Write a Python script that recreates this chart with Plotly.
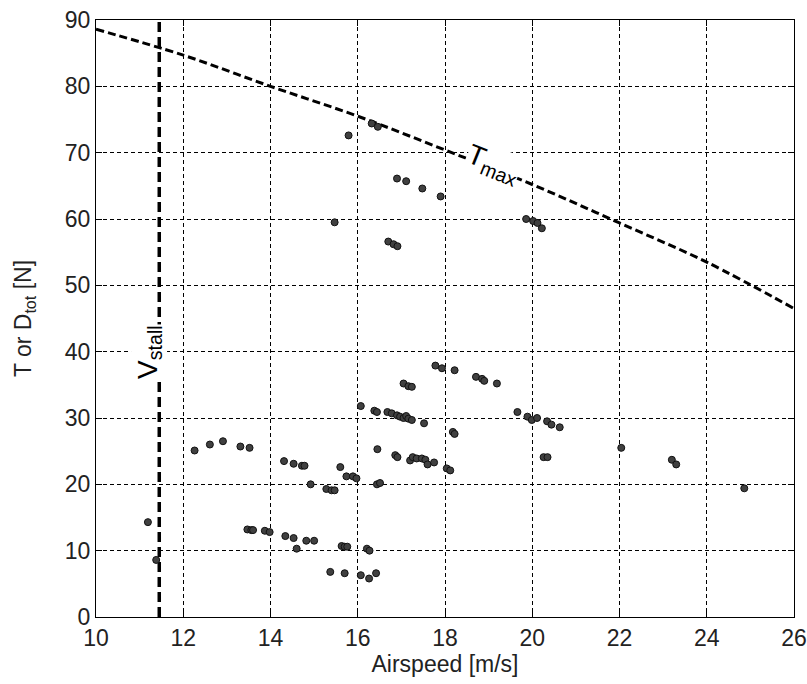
import plotly.graph_objects as go

# Measured operating points: airspeed [m/s] vs. thrust / total drag [N]
airspeed = [
    11.19, 11.38, 12.26, 12.61, 12.91, 13.31, 13.52, 13.47, 13.56, 13.60,
    13.87, 13.98, 14.31, 14.53, 14.72, 14.78, 14.34, 14.53, 14.60, 14.82,
    15.00, 14.92, 15.28, 15.40, 15.47, 15.60, 15.74, 15.89, 15.97, 15.63,
    15.70, 15.76, 15.37, 15.70, 16.07, 16.26, 16.42, 16.21, 16.27, 16.44,
    16.51, 16.45, 16.86, 16.91, 17.20, 17.26, 17.35, 17.47, 17.55, 17.60,
    17.75, 18.04, 18.12, 16.07, 16.38, 16.44, 16.68, 16.78, 16.90, 16.97,
    17.05, 17.11, 17.16, 17.24, 17.52, 18.18, 18.22, 17.05, 17.16, 17.24,
    17.78, 17.93, 18.22, 18.71, 18.85, 18.90, 19.19, 19.66, 19.89, 19.99,
    20.11, 20.34, 20.44, 20.63, 20.26, 20.35, 22.04, 23.20, 23.30, 24.86,
    15.47, 15.79, 16.32, 16.46, 16.70, 16.82, 16.91, 16.90, 17.11, 17.48,
    17.90, 19.86, 20.02, 20.12, 20.22,
]
force = [
    14.3, 8.6, 25.1, 26.0, 26.5, 25.7, 25.5, 13.2, 13.1, 13.1,
    13.0, 12.8, 23.5, 23.1, 22.8, 22.8, 12.2, 11.9, 10.3, 11.5,
    11.5, 20.0, 19.3, 19.1, 19.1, 22.6, 21.2, 21.2, 20.9, 10.7,
    10.6, 10.6, 6.8, 6.6, 6.3, 5.8, 6.6, 10.3, 10.0, 20.0,
    20.2, 25.3, 24.4, 24.1, 23.6, 24.1, 23.9, 23.9, 23.7, 23.0,
    23.3, 22.4, 22.1, 31.8, 31.1, 30.9, 30.9, 30.7, 30.4, 30.2,
    30.0, 30.3, 29.9, 29.7, 29.2, 27.9, 27.6, 35.2, 34.8, 34.7,
    37.9, 37.5, 37.2, 36.2, 35.9, 35.6, 35.2, 30.9, 30.2, 29.7,
    30.0, 29.5, 29.0, 28.6, 24.1, 24.1, 25.5, 23.7, 23.0, 19.4,
    59.5, 72.6, 74.4, 73.9, 56.6, 56.2, 55.9, 66.1, 65.7, 64.6,
    63.4, 60.0, 59.7, 59.4, 58.6,
]

# Maximum available thrust curve
tmax_speed = [10, 12, 14, 16, 18, 20, 22, 24, 26]
tmax_thrust = [88.6, 84.7, 80.0, 75.5, 70.4, 65.2, 59.4, 53.5, 46.5]

# Stall speed
v_stall = 11.45

x_ticks = [10, 12, 14, 16, 18, 20, 22, 24, 26]
y_ticks = [0, 10, 20, 30, 40, 50, 60, 70, 80, 90]

FONT = "Liberation Sans, Arial, sans-serif"
TEXT_COLOR = "#222222"

fig = go.Figure()

fig.add_trace(go.Scatter(
    x=tmax_speed, y=tmax_thrust, mode="lines",
    line=dict(color="black", width=3, dash="8px,4px", shape="spline"),
    hoverinfo="skip", showlegend=False,
))

fig.add_trace(go.Scatter(
    x=[v_stall, v_stall], y=[0, 90], mode="lines",
    line=dict(color="black", width=3.5, dash="10px,5px"),
    hoverinfo="skip", showlegend=False,
))

fig.add_trace(go.Scatter(
    x=airspeed, y=force, mode="markers",
    marker=dict(size=7, color="#404040", line=dict(color="#111111", width=1)),
    showlegend=False,
))

# Curve labels, boxed in white so the lines and grid break around them
fig.add_annotation(
    x=19.1, y=68.2, text="T<sub>max</sub>", showarrow=False, textangle=22,
    font=dict(family=FONT, size=28, color="black"),
    bgcolor="white", borderpad=0,
)
fig.add_annotation(
    x=11.22, y=40.0, text="V<sub>stall</sub>", showarrow=False, textangle=-90,
    font=dict(family=FONT, size=28, color="black"),
    bgcolor="white", borderpad=0,
)

axis_common = dict(
    showline=True, linecolor="black", linewidth=1, mirror="ticks",
    ticks="inside", ticklen=6, tickcolor="black",
    showgrid=True, gridcolor="black", gridwidth=1, griddash="4px,3px",
    zeroline=False, automargin=False,
    tickfont=dict(family=FONT, size=23, color=TEXT_COLOR),
)

fig.update_xaxes(
    range=[10, 26], tickvals=x_ticks,
    title=dict(text="Airspeed [m/s]", font=dict(family=FONT, size=23, color=TEXT_COLOR), standoff=4),
    **axis_common,
)
fig.update_yaxes(
    range=[0, 90], tickvals=y_ticks,
    title=dict(text="T or D<sub>tot</sub> [N]", font=dict(family=FONT, size=23, color=TEXT_COLOR), standoff=26),
    **axis_common,
)

fig.update_layout(
    width=807, height=684,
    margin=dict(l=96, r=13, t=20, b=67),
    plot_bgcolor="white", paper_bgcolor="white",
)

fig.write_html("out.html")
